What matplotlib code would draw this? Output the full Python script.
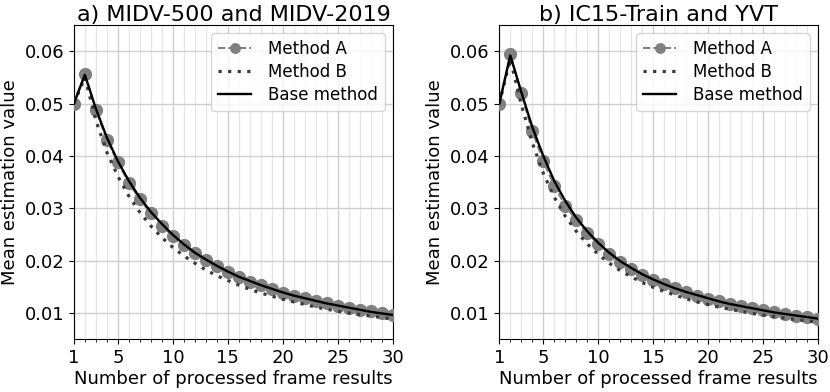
import matplotlib
matplotlib.use("Agg")
import matplotlib.pyplot as plt
import numpy as np

frames = list(range(1, 31))

a_method_a = [0.0500, 0.0557, 0.0488, 0.0430, 0.0388, 0.0348, 0.0317, 0.0290, 0.0267, 0.0247,
              0.0229, 0.0214, 0.0201, 0.0189, 0.0178, 0.0169, 0.0160, 0.0153, 0.0146, 0.0139,
              0.0133, 0.0128, 0.0123, 0.0118, 0.0114, 0.0110, 0.0106, 0.0103, 0.0099, 0.0096]
a_method_b = [0.0500, 0.0550, 0.0468, 0.0407, 0.0361, 0.0323, 0.0292, 0.0266, 0.0244, 0.0225,
              0.0209, 0.0195, 0.0182, 0.0171, 0.0162, 0.0153, 0.0145, 0.0138, 0.0132, 0.0126,
              0.0121, 0.0116, 0.0111, 0.0107, 0.0103, 0.0100, 0.0097, 0.0094, 0.0091, 0.0088]
a_base = [0.0500, 0.0555, 0.0490, 0.0435, 0.0390, 0.0352, 0.0320, 0.0293, 0.0270, 0.0249,
          0.0231, 0.0215, 0.0202, 0.0190, 0.0179, 0.0169, 0.0161, 0.0153, 0.0146, 0.0139,
          0.0133, 0.0128, 0.0123, 0.0118, 0.0114, 0.0110, 0.0106, 0.0102, 0.0099, 0.0096]

b_method_a = [0.0500, 0.0594, 0.0520, 0.0447, 0.0390, 0.0343, 0.0305, 0.0277, 0.0252, 0.0232,
              0.0213, 0.0198, 0.0184, 0.0173, 0.0163, 0.0155, 0.0147, 0.0140, 0.0133, 0.0127,
              0.0122, 0.0117, 0.0113, 0.0109, 0.0105, 0.0101, 0.0098, 0.0095, 0.0092, 0.0089]
b_method_b = [0.0500, 0.0585, 0.0498, 0.0425, 0.0367, 0.0321, 0.0285, 0.0256, 0.0232, 0.0212,
              0.0195, 0.0181, 0.0169, 0.0158, 0.0149, 0.0141, 0.0134, 0.0127, 0.0121, 0.0116,
              0.0111, 0.0107, 0.0103, 0.0099, 0.0096, 0.0093, 0.0090, 0.0087, 0.0085, 0.0082]
b_base = [0.0500, 0.0592, 0.0522, 0.0455, 0.0400, 0.0352, 0.0314, 0.0282, 0.0256, 0.0234,
          0.0215, 0.0199, 0.0186, 0.0174, 0.0164, 0.0155, 0.0147, 0.0140, 0.0134, 0.0128,
          0.0122, 0.0117, 0.0113, 0.0109, 0.0105, 0.0101, 0.0098, 0.0095, 0.0092, 0.0089]

titles = ["a) MIDV-500 and MIDV-2019", "b) IC15-Train and YVT"]
xticks = [1, 5, 10, 15, 20, 25, 30]
yticks = [0.01, 0.02, 0.03, 0.04, 0.05, 0.06]

fig = plt.figure(figsize=(8.3, 3.92), dpi=100)
ax1 = fig.add_axes([0.089, 0.135, 0.3845, 0.801])
ax2 = fig.add_axes([0.6016, 0.135, 0.3839, 0.801])

for ax, title, ya, yb, ybase in [(ax1, titles[0], a_method_a, a_method_b, a_base),
                                  (ax2, titles[1], b_method_a, b_method_b, b_base)]:
    ax.plot(frames, ya, color="#808080", linestyle=(0, (3.5, 1.5)), marker="o", markersize=8.5,
            linewidth=1.5, label="Method A", zorder=3)
    ax.plot(frames, yb, color="#3a3a3a", linestyle=(0, (1, 2)), linewidth=2.3,
            label="Method B", zorder=4)
    ax.plot(frames, ybase, color="black", linestyle="-", linewidth=1.7,
            label="Base method", zorder=5)
    ax.set_xlim(1, 30)
    ax.set_ylim(0.005, 0.065)
    ax.set_xticks(xticks)
    ax.set_xticks(frames, minor=True)
    ax.set_yticks(yticks)
    ax.set_yticklabels([f"{v:.2f}" for v in yticks])
    ax.grid(which="major", color="#cfcfcf", linewidth=1.0)
    ax.grid(which="minor", axis="x", color="#e6e6e6", linewidth=0.9)
    ax.set_axisbelow(True)
    ax.tick_params(axis="both", which="major", labelsize=13)
    ax.set_title(title, fontsize=16, pad=3)
    ax.set_xlabel("Number of processed frame results", fontsize=13, labelpad=2)
    ax.set_ylabel("Mean estimation value", fontsize=13)
    leg = ax.legend(loc="upper right", fontsize=12, borderaxespad=0.5,
                    labelspacing=0.3, markerscale=0.8, handletextpad=1.0)
    leg.get_frame().set_edgecolor("#cccccc")

fig.savefig("out.png", dpi=100)
